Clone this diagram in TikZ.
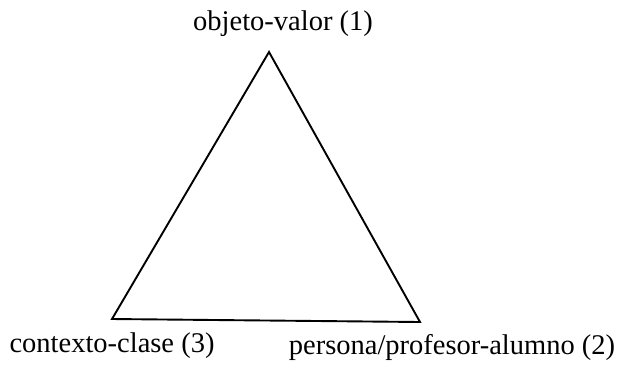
\documentclass[tikz,border=0pt]{standalone}
\usepackage{fontspec}
\setmainfont{Liberation Serif}
\begin{document}
\begin{tikzpicture}[x=1pt,y=-1pt,
  lbl/.style={inner sep=0pt,font=\fontsize{28.5}{32}\selectfont},
  edge/.style={line width=1.9pt,line join=miter}]
\useasboundingbox (0,0) rectangle (617,365);
\coordinate (A) at (269,52);
\coordinate (B) at (112,319);
\coordinate (C) at (420,322);
\draw[edge] (A) -- (B) -- (C) -- cycle;
\node[lbl] (la) at (283,24) {objeto-valor (1)};
\node[lbl] (lb) at (112,346) {contexto-clase (3)};
\node[lbl] (lc) at (452,347) {persona/profesor-alumno (2)};
\end{tikzpicture}
\end{document}
